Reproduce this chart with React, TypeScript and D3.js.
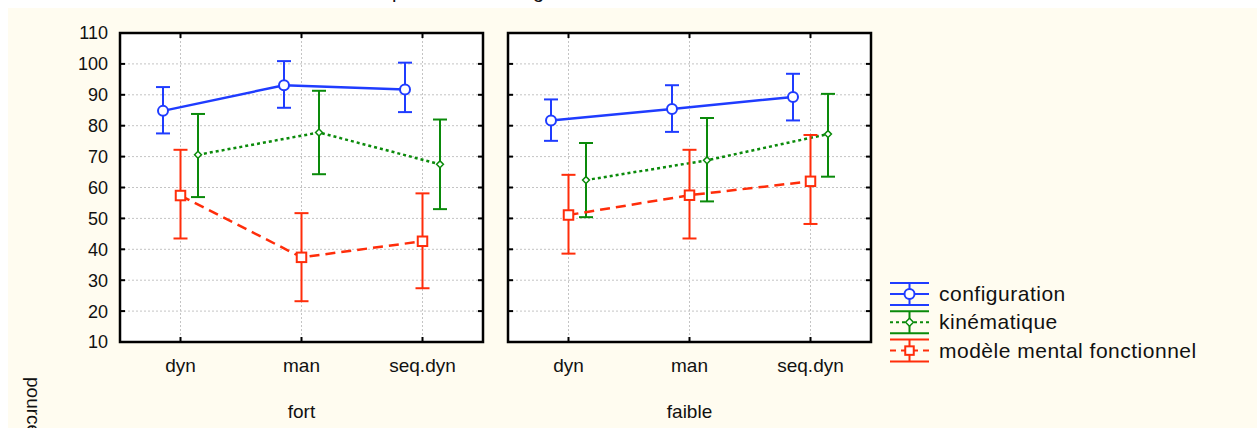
import React from 'react';
import * as d3 from 'd3';

// categories / panels
const categories = ['dyn', 'man', 'seq.dyn'];
const groups = ['fort', 'faible'];
const yTicks = [10, 20, 30, 40, 50, 60, 70, 80, 90, 100, 110];

// configuration (means and interval bounds), fort then faible
const configFortMean = [84.8, 93.1, 91.7];
const configFortLow = [77.5, 85.8, 84.4];
const configFortHigh = [92.5, 100.9, 100.4];
const configFaibleMean = [81.7, 85.4, 89.3];
const configFaibleLow = [75.1, 78.0, 81.7];
const configFaibleHigh = [88.5, 93.1, 96.8];

// kinématique
const kineFortMean = [70.6, 77.8, 67.5];
const kineFortLow = [56.9, 64.3, 53.0];
const kineFortHigh = [83.8, 91.3, 82.0];
const kineFaibleMean = [62.4, 68.8, 77.3];
const kineFaibleLow = [50.4, 55.5, 63.5];
const kineFaibleHigh = [74.4, 82.5, 90.3];

// modèle mental fonctionnel
const mmfFortMean = [57.4, 37.4, 42.6];
const mmfFortLow = [43.5, 23.2, 27.4];
const mmfFortHigh = [72.2, 51.7, 58.1];
const mmfFaibleMean = [51.1, 57.5, 62.0];
const mmfFaibleLow = [38.6, 43.5, 48.2];
const mmfFaibleHigh = [64.1, 72.2, 77.0];

const seriesNames = ['configuration', 'kinématique', 'modèle mental fonctionnel'];

const series = [
  {
    name: seriesNames[0],
    data: [
      { mean: configFortMean, low: configFortLow, high: configFortHigh },
      { mean: configFaibleMean, low: configFaibleLow, high: configFaibleHigh },
    ],
    color: '#1f3cff', dash: null, offset: -17.5, marker: 'circle', lw: 2.5,
  },
  {
    name: seriesNames[1],
    data: [
      { mean: kineFortMean, low: kineFortLow, high: kineFortHigh },
      { mean: kineFaibleMean, low: kineFaibleLow, high: kineFaibleHigh },
    ],
    color: '#0a8a0a', dash: '3,3', offset: 17.5, marker: 'diamond', lw: 2.5,
  },
  {
    name: seriesNames[2],
    data: [
      { mean: mmfFortMean, low: mmfFortLow, high: mmfFortHigh },
      { mean: mmfFaibleMean, low: mmfFaibleLow, high: mmfFaibleHigh },
    ],
    color: '#ff2d0a', dash: '10,6', offset: 0, marker: 'square', lw: 2.5,
  },
];

const W = 1257;
const H = 428;
const FONT = '"Liberation Sans", Arial, sans-serif';
const panelX = [[120, 483], [508, 871]];
const plotTop = 33;
const plotBottom = 342;
const CAP = 7;
const TICK = 5;

function Marker({ type, x, y, color, big = false }) {
  if (type === 'circle') {
    return <circle cx={x} cy={y} r={5} fill="#fff" stroke={color} strokeWidth={2} />;
  }
  if (type === 'square') {
    const s = big ? 8.5 : 9.5;
    return <rect x={x - s / 2} y={y - s / 2} width={s} height={s} fill="#fff" stroke={color} strokeWidth={2} />;
  }
  const path = d3.symbol(d3.symbolDiamond2, big ? 40 : 30)();
  return <path d={path} transform={`translate(${x},${y})`} fill="#fff" stroke={color} strokeWidth={1.5} />;
}

export default function App() {
  const y = d3.scaleLinear().domain([10, 110]).range([plotBottom, plotTop]);

  const panels = groups.map((g, gi) => {
    const [x0, x1] = panelX[gi];
    const x = d3.scalePoint().domain(categories).range([x0, x1]).padding(0.5);
    const line = d3.line<[number, number]>().x(d => d[0]).y(d => d[1]);
    return (
      <g key={g}>
        <rect x={x0} y={plotTop} width={x1 - x0} height={plotBottom - plotTop} fill="#fff" />
        {/* grid */}
        {yTicks.slice(1, -1).map(t => (
          <line key={'h' + t} x1={x0} x2={x1} y1={y(t)} y2={y(t)} stroke="#c4c4c4" strokeDasharray="2,2" strokeWidth={1} />
        ))}
        {categories.map(c => (
          <line key={'v' + c} x1={x(c)} x2={x(c)} y1={plotTop} y2={plotBottom} stroke="#c4c4c4" strokeDasharray="2,2" strokeWidth={1} />
        ))}
        {/* series */}
        {series.map(s => {
          const d = s.data[gi];
          const pts: [number, number][] = categories.map((c, i) => [x(c)! + s.offset, y(d.mean[i])]);
          return (
            <g key={s.name}>
              {categories.map((c, i) => {
                const cx = x(c)! + s.offset;
                return (
                  <g key={c} stroke={s.color} strokeWidth={2}>
                    <line x1={cx} x2={cx} y1={y(d.low[i])} y2={y(d.high[i])} />
                    <line x1={cx - CAP} x2={cx + CAP} y1={y(d.low[i])} y2={y(d.low[i])} />
                    <line x1={cx - CAP} x2={cx + CAP} y1={y(d.high[i])} y2={y(d.high[i])} />
                  </g>
                );
              })}
              <path d={line(pts)!} fill="none" stroke={s.color} strokeWidth={s.lw} strokeDasharray={s.dash || undefined} />
              {pts.map((p, i) => (
                <Marker key={i} type={s.marker} x={p[0]} y={p[1]} color={s.color} />
              ))}
            </g>
          );
        })}
        {/* frame and ticks */}
        <rect x={x0} y={plotTop} width={x1 - x0} height={plotBottom - plotTop} fill="none" stroke="#000" strokeWidth={2.5} />
        {yTicks.map(t => (
          <g key={'t' + t} stroke="#000" strokeWidth={2}>
            <line x1={x0} x2={x0 + TICK} y1={y(t)} y2={y(t)} />
            <line x1={x1 - TICK} x2={x1} y1={y(t)} y2={y(t)} />
          </g>
        ))}
        {categories.map(c => (
          <g key={'tc' + c} stroke="#000" strokeWidth={2}>
            <line x1={x(c)} x2={x(c)} y1={plotTop} y2={plotTop + TICK} />
            <line x1={x(c)} x2={x(c)} y1={plotBottom - TICK} y2={plotBottom} />
          </g>
        ))}
        {categories.map(c => (
          <text key={'l' + c} x={x(c)} y={372} textAnchor="middle" fontSize={19} fill="#111">{c}</text>
        ))}
        <text x={(x0 + x1) / 2} y={418} textAnchor="middle" fontSize={19} fill="#111">{g}</text>
      </g>
    );
  });

  const legendX0 = 890;
  const legendX1 = 929;
  const legendCx = (legendX0 + legendX1) / 2;
  const legendRows = [294, 322.3, 350.6];

  return (
    <svg width={W} height={H} style={{ position: 'absolute', left: 0, top: 0, display: 'block' }} fontFamily={FONT}>
      <rect x={0} y={0} width={W} height={H} fill="#fff" />
      <rect x={8} y={8} width={W - 8} height={H - 8} fill="#fffcf0" />
      {/* title sits above the visible area, only its descenders show */}
      <text x={303} y={-2} fontSize={20} fill="#111">Résultats pour les scores globaux</text>
      {yTicks.map(t => (
        <text key={t} x={108} y={y(t)} dy="0.36em" textAnchor="end" fontSize={18} fill="#111">{t}</text>
      ))}
      {panels}
      <text transform="translate(27,377) rotate(90)" fontSize={19} fill="#111">pourcentage</text>
      {series.map((s, i) => {
        const cy = legendRows[i];
        return (
          <g key={s.name}>
            <g stroke={s.color} strokeWidth={2}>
              <line x1={legendX0} x2={legendX1} y1={cy - 11} y2={cy - 11} />
              <line x1={legendX0} x2={legendX1} y1={cy + 11} y2={cy + 11} />
              <line x1={legendCx} x2={legendCx} y1={cy - 11} y2={cy + 11} />
            </g>
            <line x1={legendX0} x2={legendX1} y1={cy} y2={cy} stroke={s.color} strokeWidth={2}
              strokeDasharray={s.dash ? (i === 2 ? '6,5' : '3,3') : undefined} />
            <Marker type={s.marker} x={legendCx} y={cy} color={s.color} big />
            <text x={939} y={cy + 7} fontSize={21} letterSpacing={0.5} fill="#111">{s.name}</text>
          </g>
        );
      })}
    </svg>
  );
}
